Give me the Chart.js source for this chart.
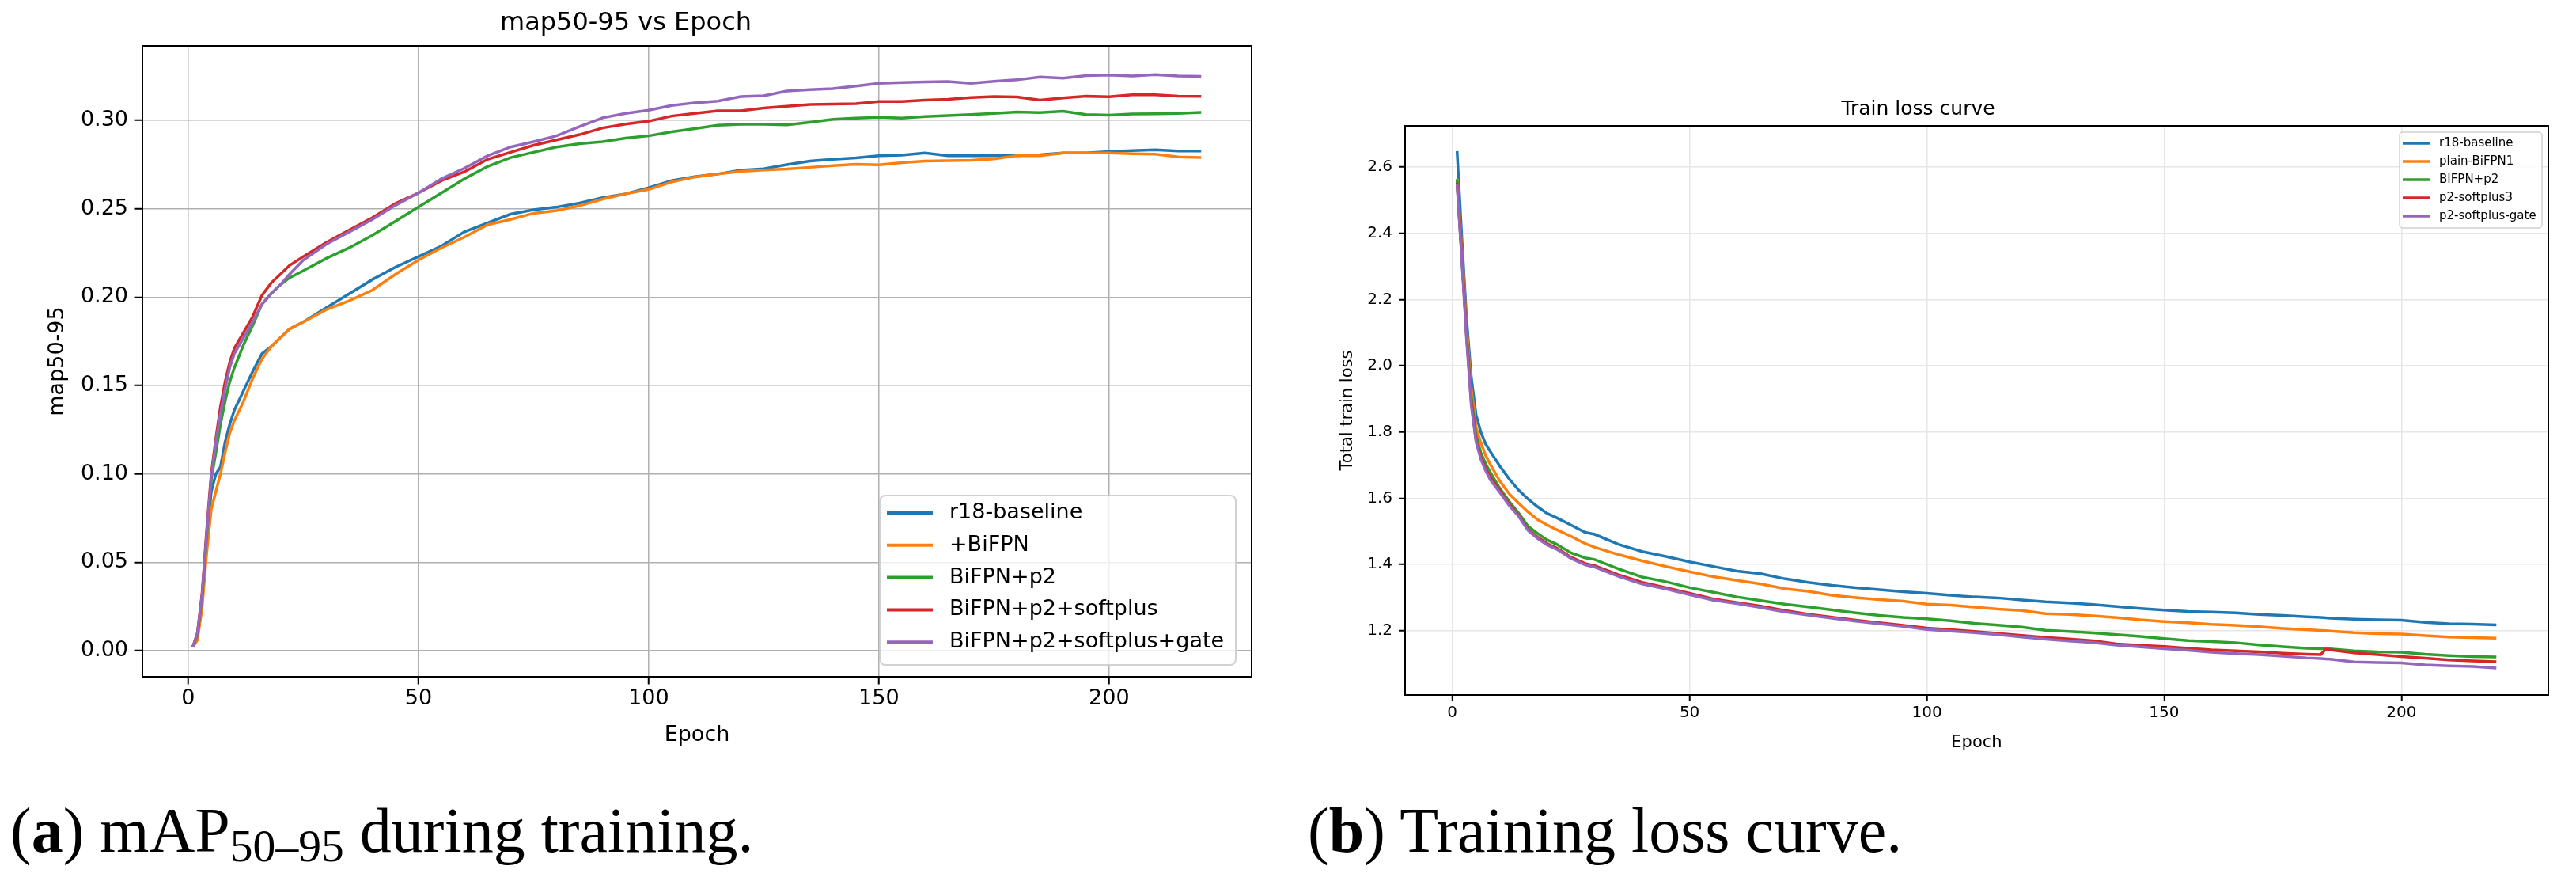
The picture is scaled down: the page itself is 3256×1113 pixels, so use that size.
<!DOCTYPE html>
<html>
<head>
<meta charset="utf-8">
<title>map50-95 / train loss</title>
<script src="https://cdn.jsdelivr.net/npm/chart.js@4.4.0/dist/chart.umd.min.js"></script>
<style>
  html, body { margin: 0; padding: 0; background: #fff; }
  body { width: 3256px; height: 1113px; position: relative; overflow: hidden; }
  canvas { position: absolute; top: 0; }
  #mapChart { left: 0; }
  #lossChart { left: 1628px; }
  .caption {
    position: absolute; top: 1009px;
    font-family: "Liberation Serif", "DejaVu Serif", serif;
    font-size: 80px; line-height: 80px; white-space: nowrap; color: #000;
  }
  .caption sub { font-size: 0.72em; vertical-align: baseline; position: relative; top: 0.2em; }
</style>
</head>
<body>
<canvas id="mapChart" width="1628" height="1000"></canvas>
<canvas id="lossChart" width="1628" height="1000"></canvas>
<div class="caption" style="left:13px">(<b>a</b>) mAP<sub>50–95</sub> during training.</div>
<div class="caption" style="left:1653px">(<b>b</b>) Training loss curve.</div>
<script>
// matplotlib tab10
const seriesColors = ['#1f77b4', '#ff7f0e', '#2ca02c', '#d62728', '#9467bd'];

// ---- (a) map50-95 vs Epoch ----
const mapLabels = ['r18-baseline', '+BiFPN', 'BiFPN+p2', 'BiFPN+p2+softplus', 'BiFPN+p2+softplus+gate'];
const mapEpochs = [1, 2, 3, 4, 5, 6, 7, 8, 9, 10, 12, 14, 16, 18, 20, 22, 25, 30, 35, 40, 45, 50, 55, 60, 65, 70, 75, 80,
  85, 90, 95, 100, 105, 110, 115, 120, 125, 130, 135, 140, 145, 150, 155, 160, 165, 170, 175, 180, 185, 190, 195, 200,
  205, 210, 215, 220];
const mapBaseline = [0.002, 0.008, 0.028, 0.062, 0.090, 0.100, 0.104, 0.118, 0.128, 0.136, 0.147, 0.158, 0.168, 0.172,
  0.177, 0.182, 0.186, 0.194, 0.202, 0.210, 0.217, 0.223, 0.229, 0.237, 0.242, 0.247, 0.2495, 0.251,
  0.2533, 0.2563, 0.2585, 0.2619, 0.266, 0.2682, 0.2697, 0.2719, 0.2727, 0.275, 0.277, 0.278, 0.2788, 0.2801, 0.2804,
  0.2816, 0.2801, 0.2801, 0.2800, 0.2802, 0.2806, 0.2816, 0.2816, 0.2824, 0.283, 0.2834, 0.2827, 0.2827];
const mapBifpn = [0.002, 0.006, 0.024, 0.055, 0.080, 0.090, 0.100, 0.112, 0.123, 0.130, 0.141, 0.154, 0.165, 0.172,
  0.177, 0.182, 0.186, 0.193, 0.198, 0.204, 0.213, 0.221, 0.228, 0.234, 0.241, 0.244, 0.2475, 0.249,
  0.2518, 0.2555, 0.2585, 0.261, 0.2652, 0.268, 0.2697, 0.2712, 0.272, 0.2725, 0.2735, 0.2745, 0.2752, 0.2749, 0.2761,
  0.277, 0.2773, 0.2775, 0.2783, 0.2801, 0.2801, 0.2816, 0.2816, 0.2816, 0.2812, 0.2809, 0.2794, 0.279];
const mapP2 = [0.002, 0.009, 0.030, 0.064, 0.097, 0.112, 0.128, 0.141, 0.152, 0.160, 0.173, 0.184, 0.196, 0.202,
  0.207, 0.211, 0.215, 0.222, 0.228, 0.235, 0.243, 0.251, 0.259, 0.267, 0.274, 0.279, 0.282, 0.285,
  0.2869, 0.288, 0.290, 0.2913, 0.2936, 0.2954, 0.2973, 0.2978, 0.2978, 0.2975, 0.299, 0.3007, 0.3013, 0.3018, 0.3013,
  0.3022, 0.3028, 0.3033, 0.304, 0.3048, 0.3045, 0.3052, 0.3033, 0.303, 0.3037, 0.3038, 0.304, 0.3046];
const mapSoftplus = [0.002, 0.010, 0.032, 0.068, 0.100, 0.120, 0.138, 0.152, 0.163, 0.171, 0.180, 0.189, 0.201, 0.208,
  0.213, 0.218, 0.223, 0.231, 0.238, 0.245, 0.253, 0.259, 0.266, 0.271, 0.278, 0.282, 0.286, 0.289,
  0.292, 0.2958, 0.298, 0.2996, 0.3025, 0.304, 0.3055, 0.3055, 0.307, 0.308, 0.309, 0.3093, 0.3095, 0.3107, 0.3107,
  0.3115, 0.312, 0.313, 0.3135, 0.3133, 0.3115, 0.3128, 0.3137, 0.3134, 0.3145, 0.3145, 0.3138, 0.3136];
const mapGate = [0.002, 0.010, 0.031, 0.066, 0.098, 0.118, 0.134, 0.148, 0.160, 0.168, 0.177, 0.186, 0.196, 0.202,
  0.207, 0.213, 0.221, 0.230, 0.237, 0.244, 0.252, 0.259, 0.267, 0.273, 0.280, 0.285, 0.288, 0.2913,
  0.2966, 0.3015, 0.304, 0.3058, 0.3085, 0.310, 0.311, 0.3135, 0.314, 0.3167, 0.3175, 0.318, 0.3195, 0.321, 0.3215,
  0.3218, 0.322, 0.321, 0.3222, 0.323, 0.3246, 0.324, 0.3254, 0.3257, 0.3252, 0.326, 0.3252, 0.325];
const mapXTicks = [0, 50, 100, 150, 200];
const mapYTicks = [0, 0.05, 0.10, 0.15, 0.20, 0.25, 0.30];

// ---- (b) Train loss curve ----
const lossLabels = ['r18-baseline', 'plain-BiFPN1', 'BIFPN+p2', 'p2-softplus3', 'p2-softplus-gate'];
const lossEpochs = [1, 2, 3, 4, 5, 6, 7, 8, 10, 12, 14, 16, 18, 20, 22, 25, 28, 30, 35, 40, 45, 50, 55, 60, 65, 70, 75,
  80, 85, 90, 95, 100, 105, 110, 115, 120, 125, 130, 135, 140, 145, 150, 155, 160, 165, 170, 175, 180, 183, 184, 185,
  190, 195, 200, 205, 210, 215, 220];
const lossBaseline = [2.648, 2.386, 2.142, 1.964, 1.852, 1.800, 1.764, 1.741, 1.697, 1.658, 1.624, 1.597, 1.574, 1.554,
  1.541, 1.519, 1.497, 1.491, 1.461, 1.439, 1.424, 1.408, 1.394, 1.380, 1.372, 1.357, 1.346,
  1.337, 1.330, 1.324, 1.318, 1.313, 1.307, 1.302, 1.299, 1.293, 1.2875, 1.284, 1.279, 1.273, 1.267, 1.262, 1.258,
  1.256, 1.254, 1.249, 1.246, 1.242, 1.240, 1.239, 1.238, 1.235, 1.233, 1.232, 1.225, 1.221, 1.220, 1.2175];
const lossBifpn = [2.564, 2.353, 2.119, 1.930, 1.815, 1.768, 1.730, 1.702, 1.652, 1.613, 1.585, 1.558, 1.535, 1.519,
  1.505, 1.485, 1.463, 1.452, 1.430, 1.411, 1.394, 1.378, 1.363, 1.352, 1.341, 1.327, 1.319,
  1.307, 1.300, 1.294, 1.289, 1.280, 1.277, 1.271, 1.265, 1.261, 1.2517, 1.249, 1.245, 1.2398, 1.233, 1.2278, 1.224,
  1.219, 1.216, 1.212, 1.207, 1.203, 1.201, 1.200, 1.199, 1.194, 1.191, 1.1897, 1.185, 1.181, 1.179, 1.1777];
const lossP2 = [2.560, 2.330, 2.100, 1.905, 1.790, 1.738, 1.705, 1.678, 1.630, 1.590, 1.555, 1.515, 1.493, 1.474,
  1.461, 1.435, 1.420, 1.415, 1.387, 1.362, 1.348, 1.330, 1.316, 1.302, 1.291, 1.280, 1.272,
  1.263, 1.254, 1.246, 1.240, 1.2358, 1.230, 1.222, 1.217, 1.211, 1.2016, 1.198, 1.1936, 1.188, 1.183, 1.1761, 1.170,
  1.167, 1.164, 1.157, 1.152, 1.147, 1.146, 1.146, 1.145, 1.139, 1.136, 1.1348, 1.129, 1.125, 1.122, 1.1205];
const lossSoftplus = [2.553, 2.330, 2.090, 1.890, 1.775, 1.725, 1.691, 1.663, 1.624, 1.582, 1.548, 1.505, 1.482, 1.463,
  1.450, 1.422, 1.403, 1.396, 1.369, 1.346, 1.330, 1.313, 1.296, 1.285, 1.274, 1.261, 1.250,
  1.241, 1.232, 1.224, 1.216, 1.208, 1.203, 1.198, 1.192, 1.186, 1.180, 1.175, 1.1698, 1.1602, 1.156, 1.1523, 1.147,
  1.142, 1.139, 1.136, 1.132, 1.129, 1.128, 1.144, 1.142, 1.133, 1.128, 1.122, 1.117, 1.112, 1.109, 1.1062];
const lossGate = [2.548, 2.320, 2.080, 1.880, 1.770, 1.718, 1.684, 1.656, 1.618, 1.578, 1.545, 1.502, 1.478, 1.459,
  1.446, 1.418, 1.399, 1.392, 1.364, 1.341, 1.326, 1.309, 1.292, 1.282, 1.270, 1.257, 1.247,
  1.238, 1.229, 1.221, 1.213, 1.204, 1.199, 1.194, 1.188, 1.181, 1.1746, 1.169, 1.1642, 1.1563, 1.151, 1.146, 1.141,
  1.135, 1.131, 1.128, 1.123, 1.118, 1.116, 1.115, 1.114, 1.106, 1.104, 1.103, 1.097, 1.094, 1.092, 1.087];
const lossXTicks = [0, 50, 100, 150, 200];
const lossYTicks = [1.2, 1.4, 1.6, 1.8, 2.0, 2.2, 2.4, 2.6];

Chart.defaults.font.family = '"DejaVu Sans"';
Chart.defaults.color = '#000';

function makeDatasets(labels, series, epochs) {
  return series.map((vals, i) => ({
    label: labels[i],
    data: vals.map((v, j) => ({ x: epochs[j], y: v })),
    borderColor: seriesColors[i],
    backgroundColor: seriesColors[i],
    borderWidth: 3.5,
    pointRadius: 0,
    tension: 0,
    order: series.length - 1 - i   // last series drawn on top, like matplotlib
  }));
}

// black box round the plot area + matplotlib style legend
const mplFrame = {
  id: 'mplFrame',
  afterDraw(chart, args, opts) {
    const { ctx, chartArea: a } = chart;
    ctx.save();
    ctx.strokeStyle = '#000';
    ctx.lineWidth = opts.lineWidth;
    ctx.strokeRect(a.left, a.top, a.right - a.left, a.bottom - a.top);

    const L = opts.legend;
    const x0 = a.right - L.right - L.width;
    const y0 = L.top != null ? a.top + L.top : a.bottom - L.bottom - L.height;
    ctx.fillStyle = 'rgba(255,255,255,0.8)';
    ctx.strokeStyle = 'rgba(204,204,204,0.9)';
    ctx.lineWidth = L.frameWidth;
    ctx.beginPath();
    ctx.roundRect(x0, y0, L.width, L.height, L.radius);
    ctx.fill();
    ctx.stroke();

    ctx.font = L.font + 'px "DejaVu Sans"';
    ctx.textBaseline = 'middle';
    ctx.textAlign = 'left';
    chart.data.datasets.forEach((ds, i) => {
      const y = y0 + L.firstRow + i * L.rowGap;
      ctx.strokeStyle = ds.borderColor;
      ctx.lineWidth = L.handleWidth;
      ctx.beginPath();
      ctx.moveTo(x0 + L.handleX, y);
      ctx.lineTo(x0 + L.handleX + L.handleLen, y);
      ctx.stroke();
      ctx.fillStyle = '#000';
      ctx.fillText(ds.label, x0 + L.textX, y);
    });
    ctx.restore();
  }
};

function fixedTicks(list) {
  return scale => { scale.ticks = list.map(v => ({ value: v })); };
}

// (a)
new Chart(document.getElementById('mapChart'), {
  type: 'line',
  data: {
    datasets: makeDatasets(mapLabels, [mapBaseline, mapBifpn, mapP2, mapSoftplus, mapGate], mapEpochs)
  },
  plugins: [mplFrame],
  options: {
    responsive: false,
    animation: false,
    devicePixelRatio: 1,
    layout: { padding: { left: 0, right: 46, top: 0, bottom: 0 } },
    plugins: {
      legend: { display: false },
      tooltip: { enabled: false },
      title: {
        display: true,
        text: 'map50-95 vs Epoch',
        color: '#000',
        font: { size: 32, weight: 'normal' },
        padding: { top: 10, bottom: 9.6 }
      },
      mplFrame: {
        lineWidth: 2,
        legend: {
          right: 20, bottom: 15, width: 450, height: 214, radius: 7, frameWidth: 2,
          firstRow: 22, rowGap: 40.8, handleX: 9, handleLen: 58, handleWidth: 4, textX: 88, font: 27
        }
      }
    },
    scales: {
      x: {
        type: 'linear',
        min: -9.95,
        max: 230.95,
        afterBuildTicks: fixedTicks(mapXTicks),
        afterFit: s => { s.height = 145; },
        grid: { color: '#b0b0b0', lineWidth: 1.5, tickColor: '#000', tickLength: 9.5, tickWidth: 2 },
        border: { color: '#000', width: 2 },
        ticks: { color: '#000', font: { size: 27 }, padding: 2, maxRotation: 0 },
        title: { display: true, text: 'Epoch', color: '#000', font: { size: 27 }, padding: { top: 0, bottom: 55 } }
      },
      y: {
        type: 'linear',
        min: -0.0148,
        max: 0.3422,
        afterBuildTicks: fixedTicks(mapYTicks),
        afterFit: s => { s.width = 180; },
        grid: { color: '#b0b0b0', lineWidth: 1.5, tickColor: '#000', tickLength: 9.5, tickWidth: 2 },
        border: { color: '#000', width: 2 },
        ticks: { color: '#000', font: { size: 27 }, padding: 8.5, callback: v => v.toFixed(2) },
        title: { display: true, text: 'map50-95', color: '#000', font: { size: 27 }, padding: { top: 57, bottom: 0 } }
      }
    }
  }
});

// (b)
new Chart(document.getElementById('lossChart'), {
  type: 'line',
  data: {
    datasets: makeDatasets(lossLabels, [lossBaseline, lossBifpn, lossP2, lossSoftplus, lossGate], lossEpochs)
  },
  plugins: [mplFrame],
  options: {
    responsive: false,
    animation: false,
    devicePixelRatio: 1,
    layout: { padding: { left: 0, right: 35, top: 0, bottom: 0 } },
    plugins: {
      legend: { display: false },
      tooltip: { enabled: false },
      title: {
        display: true,
        text: 'Train loss curve',
        color: '#000',
        font: { size: 25, weight: 'normal' },
        padding: { top: 123, bottom: 6 }
      },
      mplFrame: {
        lineWidth: 2,
        legend: {
          right: 8, top: 8, width: 180, height: 121, radius: 4, frameWidth: 1.5,
          firstRow: 14, rowGap: 23, handleX: 4, handleLen: 34, handleWidth: 3.5, textX: 50, font: 15
        }
      }
    },
    scales: {
      x: {
        type: 'linear',
        min: -9.95,
        max: 230.95,
        afterBuildTicks: fixedTicks(lossXTicks),
        afterFit: s => { s.height = 122; },
        grid: { color: '#e6e6e6', lineWidth: 1.5, tickColor: '#000', tickLength: 8, tickWidth: 2 },
        border: { color: '#000', width: 2 },
        ticks: { color: '#000', font: { size: 20 }, padding: 3, maxRotation: 0 },
        title: { display: true, text: 'Epoch', color: '#000', font: { size: 21 }, padding: { top: 0, bottom: 49 } }
      },
      y: {
        type: 'linear',
        min: 1.006,
        max: 2.724,
        afterBuildTicks: fixedTicks(lossYTicks),
        afterFit: s => { s.width = 148; },
        grid: { color: '#e6e6e6', lineWidth: 1.5, tickColor: '#000', tickLength: 8, tickWidth: 2 },
        border: { color: '#000', width: 2 },
        ticks: { color: '#000', font: { size: 20 }, padding: 8, callback: v => v.toFixed(1) },
        title: { display: true, text: 'Total train loss', color: '#000', font: { size: 21 }, padding: { top: 63, bottom: 0 } }
      }
    }
  }
});
</script>
</body>
</html>
